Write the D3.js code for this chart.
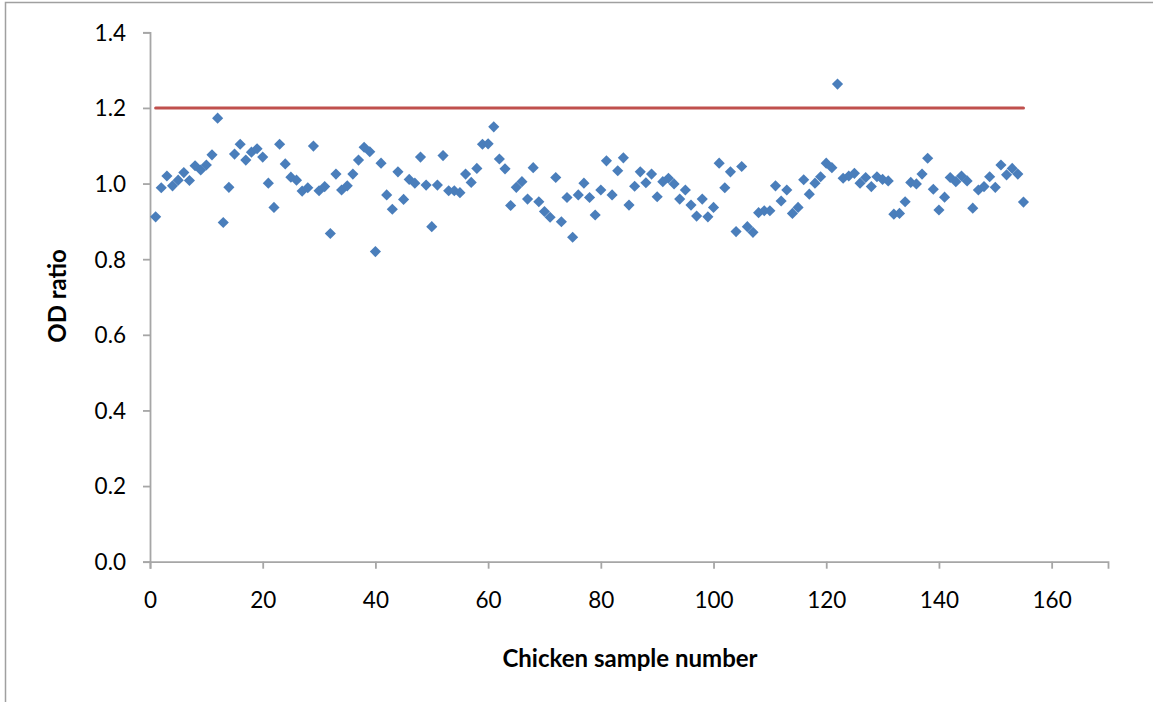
<!DOCTYPE html>
<html>
<head>
<meta charset="utf-8">
<script src="https://cdn.jsdelivr.net/npm/d3@7"></script>
<style>
  html, body { margin: 0; padding: 0; background: #fff; }
  svg { display: block; }
  .tick text { font-family: Lato, "Open Sans", sans-serif; font-size: 22.5px; fill: #000; }
</style>
</head>
<body>
<svg id="chart" width="1153" height="702"></svg>
<script>
// ---- data ----
const sampleNumbers = d3.range(1, 156);
const odRatios = [
  0.912, 0.989, 1.020, 0.994, 1.009, 1.029, 1.008, 1.047, 1.036, 1.049,
  1.076, 1.173, 0.897, 0.990, 1.078, 1.104, 1.062, 1.083, 1.092, 1.070,
  1.001, 0.937, 1.104, 1.052, 1.017, 1.009, 0.980, 0.989, 1.099, 0.981,
  0.992, 0.868, 1.025, 0.983, 0.994, 1.025, 1.062, 1.096, 1.084, 0.820,
  1.054, 0.970, 0.932, 1.031, 0.958, 1.011, 1.001, 1.070, 0.996, 0.886,
  0.996, 1.074, 0.981, 0.981, 0.976, 1.025, 1.003, 1.040, 1.104, 1.105,
  1.150, 1.065, 1.039, 0.942, 0.990, 1.005, 0.959, 1.042, 0.952, 0.926,
  0.911, 1.016, 0.899, 0.963, 0.858, 0.970, 1.001, 0.963, 0.917, 0.983,
  1.060, 0.970, 1.034, 1.068, 0.943, 0.993, 1.031, 1.002, 1.025, 0.965,
  1.005, 1.014, 0.999, 0.959, 0.983, 0.943, 0.914, 0.959, 0.912, 0.937,
  1.054, 0.989, 1.031, 0.873, 1.045, 0.886, 0.871, 0.923, 0.928, 0.928,
  0.994, 0.954, 0.983, 0.921, 0.937, 1.010, 0.972, 1.001, 1.018, 1.054,
  1.042, 1.263, 1.014, 1.020, 1.027, 1.001, 1.016, 0.992, 1.018, 1.011,
  1.007, 0.919, 0.921, 0.952, 1.003, 0.999, 1.025, 1.067, 0.985, 0.930,
  0.964, 1.016, 1.005, 1.020, 1.007, 0.935, 0.983, 0.992, 1.018, 0.990,
  1.049, 1.023, 1.040, 1.025, 0.951
];
const cutoffX = [1, 155];
const cutoffY = [1.2, 1.2];
const xTicks = [0, 20, 40, 60, 80, 100, 120, 140, 160];
const yTicks = [0, 0.2, 0.4, 0.6, 0.8, 1.0, 1.2, 1.4];
const xTitle = "Chicken sample number";
const yTitle = "OD ratio";

// ---- layout ----
const svg = d3.select("#chart");
const x = d3.scaleLinear().domain([0, 170]).range([150, 1108]);
const y = d3.scaleLinear().domain([0, 1.4]).range([561.7, 32.3]);

// outer frame
svg.append("path")
  .attr("d", "M5.5,702 L5.5,2.5 L1153,2.5")
  .attr("fill", "none").attr("stroke", "#a0a0a0").attr("stroke-width", 1.5);

const axisColor = "#a6a6a6";

// y axis
const yAxis = svg.append("g")
  .attr("transform", `translate(${x(0)},0)`)
  .call(d3.axisLeft(y).tickValues(yTicks).tickFormat(d3.format(".1f")).tickSize(7).tickPadding(17));
yAxis.select(".domain").attr("stroke", axisColor).attr("stroke-width", 1.8);
yAxis.selectAll(".tick line").attr("stroke", axisColor).attr("stroke-width", 1.8);
yAxis.selectAll(".tick text").attr("dy", "0.35em");

// x axis
const xAxis = svg.append("g")
  .attr("transform", `translate(0,${y(0)})`)
  .call(d3.axisBottom(x).tickValues(xTicks).tickFormat(d3.format("d")).tickSize(7).tickPadding(23));
xAxis.select(".domain").attr("stroke", axisColor).attr("stroke-width", 1.8);
xAxis.selectAll(".tick line").attr("stroke", axisColor).attr("stroke-width", 1.8);

// cutoff line
svg.append("line")
  .attr("x1", x(cutoffX[0])).attr("x2", x(cutoffX[1]))
  .attr("y1", y(cutoffY[0])).attr("y2", y(cutoffY[1]))
  .attr("stroke", "#c0504d").attr("stroke-width", 3).attr("stroke-linecap", "round");

// points
svg.append("g").selectAll("path")
  .data(sampleNumbers.map((n, i) => [n, odRatios[i]]))
  .join("path")
  .attr("transform", d => `translate(${x(d[0])},${y(d[1])}) rotate(45)`)
  .attr("d", d3.symbol().type(d3.symbolSquare).size(62)())
  .attr("fill", "#4a7ebb");

// titles
svg.append("text")
  .attr("x", 630).attr("y", 667)
  .attr("text-anchor", "middle")
  .attr("font-family", "Lato, 'Open Sans', sans-serif")
  .attr("font-weight", "bold").attr("font-size", 24)
  .text(xTitle);

svg.append("text")
  .attr("transform", `translate(66,${296}) rotate(-90)`)
  .attr("text-anchor", "middle")
  .attr("font-family", "Lato, 'Open Sans', sans-serif")
  .attr("font-weight", "bold").attr("font-size", 24)
  .text(yTitle);
</script>
</body>
</html>
